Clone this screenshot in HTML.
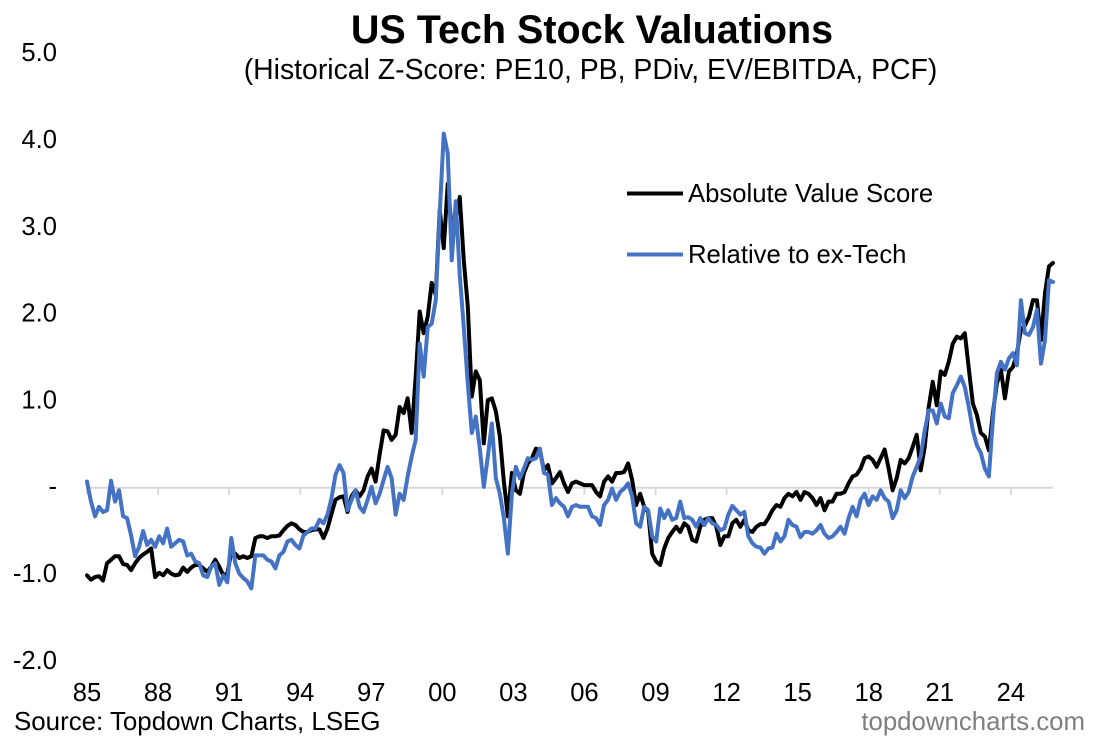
<!DOCTYPE html>
<html lang="en">
<head>
<meta charset="utf-8">
<title>US Tech Stock Valuations</title>
<style>
html,body{margin:0;padding:0;background:#fff;width:1095px;height:740px;overflow:hidden}
svg{display:block;font-family:"Liberation Sans",Arial,sans-serif}
</style>
</head>
<body>
<svg id="chart" xmlns="http://www.w3.org/2000/svg" width="1095" height="740" viewBox="0 0 1095 740">
  <rect x="0" y="0" width="1095" height="740" fill="#ffffff"/>
  <text x="592" y="43" text-anchor="middle" font-size="39.5" font-weight="bold" fill="#000">US Tech Stock Valuations</text>
  <text x="590.5" y="79" text-anchor="middle" font-size="28.4" fill="#000">(Historical Z-Score: PE10, PB, PDiv, EV/EBITDA, PCF)</text>
  <g id="axes"></g>
  <g id="series"></g>
  <g>
    <line x1="627" y1="193.5" x2="683" y2="193.5" stroke="#000000" stroke-width="4"/>
    <text x="688" y="202" font-size="25.7" fill="#000">Absolute Value Score</text>
    <line x1="627" y1="254.5" x2="683" y2="254.5" stroke="#4472C4" stroke-width="4"/>
    <text x="688" y="263" font-size="25.7" fill="#000">Relative to ex-Tech</text>
  </g>
  <text x="14" y="730" font-size="25.9" fill="#000">Source: Topdown Charts, LSEG</text>
  <text x="1085" y="730" text-anchor="end" font-size="25.8" fill="#7f7f7f">topdowncharts.com</text>
</svg>
<script>
var absoluteScore = [
-1.01,-1.06,-1.03,-1.02,-1.07,-.87,-.83,-.79,-.79,-.88,
-.89,-.95,-.87,-.81,-.77,-.74,-.70,-1.03,-.98,-1.01,
-.95,-.99,-1.01,-1.0,-.92,-.97,-.92,-.89,-.89,-.93,
-.97,-.91,-.83,-.91,-1.01,-.99,-.74,-.76,-.81,-.79,
-.81,-.79,-.58,-.56,-.56,-.58,-.56,-.56,-.55,-.49,
-.44,-.41,-.43,-.48,-.51,-.51,-.49,-.48,-.48,-.58,
-.47,-.30,-.14,-.11,-.10,-.28,-.10,-.03,-.10,-.03,
.13,.22,.07,.38,.66,.65,.55,.61,.93,.86,
1.03,.63,1.28,2.03,1.78,1.97,2.36,2.22,3.20,2.76,
3.5,2.97,3.08,3.35,2.62,2.09,1.05,1.34,1.24,.51,
1.01,1.03,.88,.59,.07,-.33,.17,-.03,-.07,.17,
.28,.34,.45,.43,.2,.26,.05,.11,.18,.05,
-.05,.05,.07,.05,.03,.03,.03,-.05,-.10,.07,
.13,.07,.17,.17,.18,.28,.09,-.20,-.07,-.22,
-.28,-.76,-.85,-.89,-.70,-.58,-.51,-.45,-.51,-.41,
-.45,-.60,-.62,-.45,-.37,-.35,-.35,-.45,-.66,-.56,
-.56,-.41,-.37,-.45,-.37,-.49,-.51,-.45,-.42,-.42,
-.35,-.26,-.20,-.22,-.12,-.07,-.10,-.05,-.14,-.05,
-.07,-.12,-.20,-.12,-.26,-.16,-.16,-.07,-.07,-.05,
.05,.13,.15,.22,.34,.36,.32,.24,.34,.44,
.22,-.03,.11,.32,.28,.34,.47,.61,.20,.47,
.93,1.22,.95,1.34,1.30,1.45,1.66,1.74,1.72,1.78,
1.37,.97,.84,.63,.59,.43,.86,1.2,1.36,1.03,
1.34,1.39,1.55,1.82,1.87,1.97,2.16,2.16,1.70,2.24,
2.55,2.59];

var relativeScore = [
.07,-.16,-.33,-.22,-.28,-.26,.08,-.16,-.03,-.33,
-.35,-.55,-.79,-.68,-.50,-.66,-.60,-.68,-.56,-.64,
-.47,-.68,-.64,-.60,-.62,-.78,-.76,-.85,-.87,-1.01,
-1.03,-.91,-.87,-1.12,-1.01,-1.09,-.58,-.87,-.99,-1.04,
-1.08,-1.16,-.78,-.78,-.78,-.83,-.85,-.93,-.78,-.74,
-.62,-.60,-.66,-.70,-.55,-.51,-.47,-.47,-.37,-.41,
-.31,-.12,.15,.26,.17,-.26,-.14,-.03,-.22,-.28,
-.14,.01,-.18,-.07,.09,.24,.11,-.31,-.07,-.14,
.13,.36,.55,1.66,1.28,1.85,1.89,2.16,3.16,4.08,
3.85,2.62,3.3,2.45,1.85,1.20,.63,.82,.45,.01,
.36,.74,.11,-.07,-.35,-.76,-.07,.24,.11,.22,
.34,.32,.34,.45,.17,.15,-.20,-.12,-.18,-.22,
-.33,-.22,-.20,-.22,-.22,-.22,-.33,-.35,-.43,-.20,
-.14,-.01,-.14,-.05,-.01,.05,-.10,-.41,-.45,-.22,
-.26,-.56,-.62,-.24,-.35,-.26,-.37,-.35,-.16,-.35,
-.34,-.37,-.45,-.35,-.43,-.35,-.41,-.43,-.49,-.47,
-.31,-.21,-.26,-.31,-.28,-.56,-.64,-.68,-.69,-.76,
-.70,-.69,-.53,-.62,-.56,-.37,-.43,-.45,-.57,-.51,
-.51,-.53,-.49,-.43,-.53,-.58,-.56,-.51,-.45,-.53,
-.35,-.22,-.33,-.14,-.07,-.20,-.10,-.14,-.03,-.12,
-.16,-.35,-.26,-.03,-.12,-.05,.13,.24,.36,.66,
.89,.89,.74,.97,.82,.80,1.09,1.18,1.28,1.16,
.93,.66,.49,.40,.22,.13,.78,1.32,1.45,1.36,
1.49,1.55,1.41,2.16,1.78,1.76,1.85,2.05,1.43,1.70,
2.39,2.37];

var yTickValues = [5, 4, 3, 2, 1, 0, -1, -2];
var yTickLabels = ["5.0", "4.0", "3.0", "2.0", "1.0", "-", "-1.0", "-2.0"];
var xTickYears = [1985, 1988, 1991, 1994, 1997, 2000, 2003, 2006, 2009, 2012, 2015, 2018, 2021, 2024];
var xTickLabels = ["85", "88", "91", "94", "97", "00", "03", "06", "09", "12", "15", "18", "21", "24"];
var startYear = 1985;
var endYear = 2025.78;

var SVG_NS = "http://www.w3.org/2000/svg";
function xOfYear(year) { return 87 + (year - startYear) * (1053 - 87) / (endYear - startYear); }
function xOfIndex(i, count) { return xOfYear(startYear + i * (endYear - startYear) / (count - 1)); }
function yOfValue(v) { return 487.7 - v * 86.8; }

var axes = document.getElementById("axes");
var seriesGroup = document.getElementById("series");

var axisLine = document.createElementNS(SVG_NS, "line");


axisLine.setAttribute("x1", xOfYear(startYear));
axisLine.setAttribute("x2", xOfYear(endYear));
axisLine.setAttribute("y1", yOfValue(0));
axisLine.setAttribute("y2", yOfValue(0));
axisLine.setAttribute("stroke", "#d9d9d9");
axisLine.setAttribute("stroke-width", "2");
axes.appendChild(axisLine);

xTickYears.forEach(function (year, k) {
  var tick = document.createElementNS(SVG_NS, "line");
  
  
  tick.setAttribute("x1", xOfYear(year));
  tick.setAttribute("x2", xOfYear(year));
  tick.setAttribute("y1", yOfValue(0));
  tick.setAttribute("y2", yOfValue(0) + 7);
  tick.setAttribute("stroke", "#d9d9d9");
  tick.setAttribute("stroke-width", "2");
  axes.appendChild(tick);

  var label = document.createElementNS(SVG_NS, "text");
  
  
  label.setAttribute("x", xOfYear(year));
  label.setAttribute("y", 701);
  label.setAttribute("text-anchor", "middle");
  label.setAttribute("font-size", "25.6");
  label.setAttribute("fill", "#000");
  label.textContent = xTickLabels[k];
  axes.appendChild(label);
});

yTickValues.forEach(function (v, k) {
  var label = document.createElementNS(SVG_NS, "text");
  
  
  label.setAttribute("x", 57);
  label.setAttribute("y", yOfValue(v) + 7.5);
  label.setAttribute("text-anchor", "end");
  label.setAttribute("font-size", "25.6");
  label.setAttribute("fill", "#000");
  label.textContent = yTickLabels[k];
  axes.appendChild(label);
});

function pathFor(values) {
  return values.map(function (v, i) {
    return (i ? "L" : "M") + xOfIndex(i, values.length).toFixed(2) + " " + yOfValue(v).toFixed(2);
  }).join(" ");
}

var absolutePath = document.createElementNS(SVG_NS, "path");


absolutePath.setAttribute("d", pathFor(absoluteScore));
absolutePath.setAttribute("fill", "none");
absolutePath.setAttribute("stroke", "#000000");
absolutePath.setAttribute("stroke-width", "4");
absolutePath.setAttribute("stroke-linejoin", "round");
absolutePath.setAttribute("stroke-linecap", "round");
seriesGroup.appendChild(absolutePath);

var relativePath = document.createElementNS(SVG_NS, "path");


relativePath.setAttribute("d", pathFor(relativeScore));
relativePath.setAttribute("fill", "none");
relativePath.setAttribute("stroke", "#4472C4");
relativePath.setAttribute("stroke-width", "4");
relativePath.setAttribute("stroke-linejoin", "round");
relativePath.setAttribute("stroke-linecap", "round");
seriesGroup.appendChild(relativePath);
</script>
</body>
</html>
